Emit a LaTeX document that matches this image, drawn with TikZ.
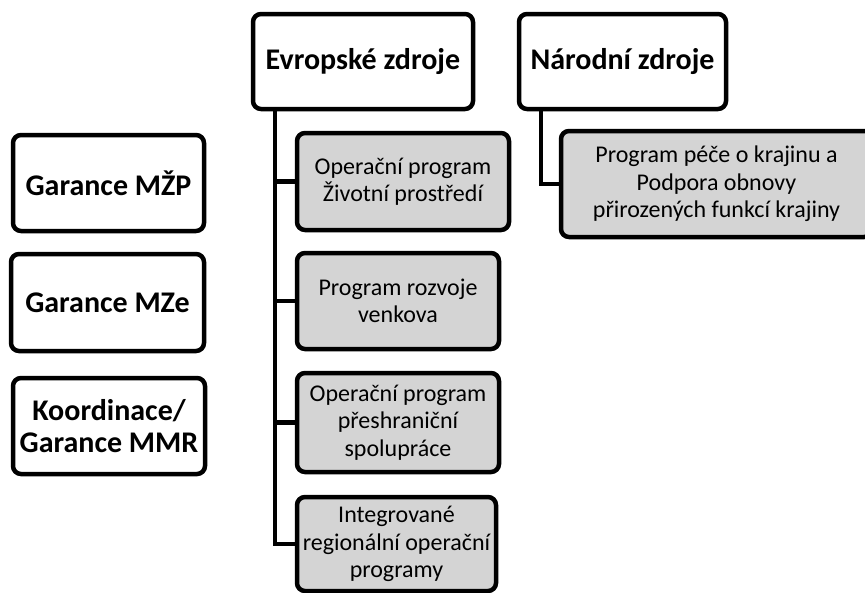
\documentclass[tikz,border=0pt]{standalone}
\usepackage{fontspec}
\setmainfont{Carlito}
\usetikzlibrary{positioning}

\begin{document}
\begin{tikzpicture}[
  x=1pt, y=-1pt,
  every node/.style={
    draw, rectangle, rounded corners=8pt, line width=4.5pt,
    align=center, inner sep=0pt
  },
  head/.style={fill=white, font=\fontsize{30}{32}\selectfont\bfseries},
  prog/.style={fill=black!17, font=\fontsize{24}{27.5}\selectfont},
  conn/.style={line width=4.5pt}
]
  \useasboundingbox (0,0) rectangle (865,592);

  \node[head, minimum width=191pt, minimum height=96pt] (mzp) at (108.5,183) {Garance MŽP};
  \node[head, minimum width=193pt, minimum height=97pt] (mze) at (107.5,302.5) {Garance MZe};
  \node[head, minimum width=192pt, minimum height=96pt] (mmr) at (109,426) {Koordinace/\\Garance MMR};

  \node[head, minimum width=220pt, minimum height=95pt] (evr) at (363,61.5) {Evropské zdroje};
  \node[head, minimum width=207pt, minimum height=95pt] (nar) at (622.5,61.5) {Národní zdroje};

  \node[prog, minimum width=212pt, minimum height=97pt] (opzp) at (403,181.5) {Operační program\\Životní prostředí};
  \node[prog, minimum width=202pt, minimum height=96pt] (prv) at (398,301) {Program rozvoje\\venkova};
  \node[prog, minimum width=202pt, minimum height=99pt] (opps) at (398,422.5) {Operační program\\přeshraniční\\spolupráce};
  \node[prog, minimum width=199pt, minimum height=94pt] (irop) at (396.5,544) {Integrované\\regionální operační\\programy};
  \node[prog, minimum width=311pt, minimum height=106pt] (ppk) at (716.5,184) {Program péče o krajinu a\\Podpora obnovy\\přirozených funkcí krajiny};

  \draw[conn] ([xshift=24pt]evr.south west) |- (opzp.west);
  \draw[conn] ([xshift=24pt]evr.south west) |- (prv.west);
  \draw[conn] ([xshift=24pt]evr.south west) |- (opps.west);
  \draw[conn] ([xshift=24pt]evr.south west) |- (irop.west);
  \draw[conn] ([xshift=24pt]nar.south west) |- (ppk.west);
\end{tikzpicture}
\end{document}
